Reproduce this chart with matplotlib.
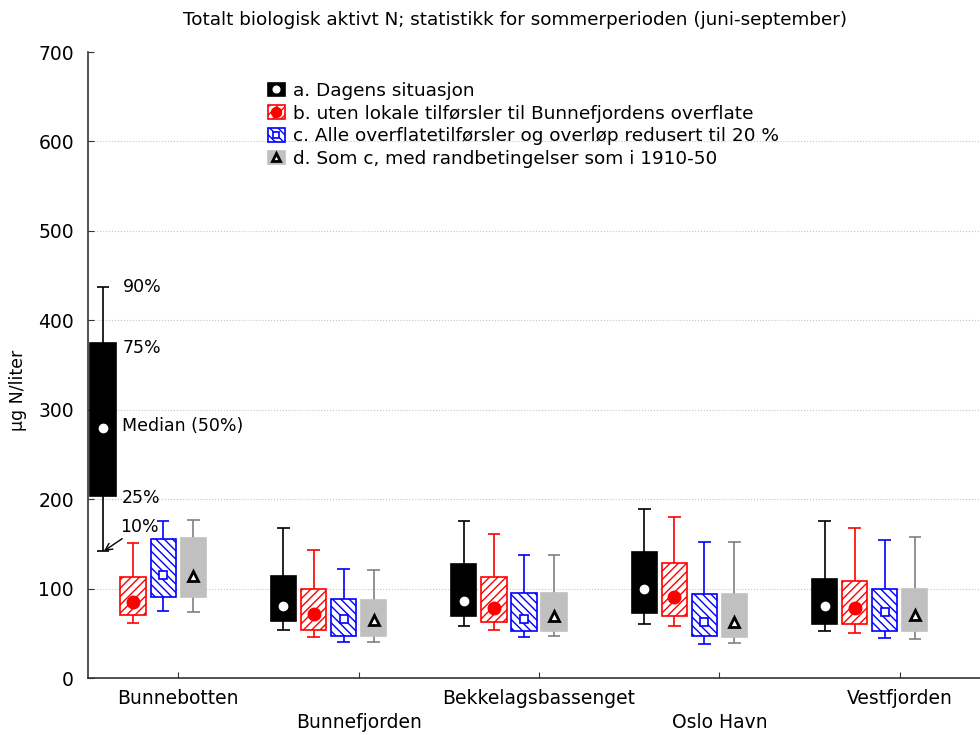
import numpy as np
import matplotlib
matplotlib.use("Agg")
import matplotlib.pyplot as plt
from matplotlib.patches import Patch
from matplotlib.lines import Line2D
from matplotlib.legend_handler import HandlerTuple

plt.rcParams['font.family'] = ['DejaVu Sans']
plt.rcParams['hatch.linewidth'] = 1.0

# stasjoner (x-aksen)
stasjoner = ["Bunnebotten", "Bunnefjorden", "Bekkelagsbassenget", "Oslo Havn", "Vestfjorden"]

# scenarier
scenarier = ["a. Dagens situasjon",
             "b. uten lokale tilførsler til Bunnefjordens overflate",
             "c. Alle overflatetilførsler og overløp redusert til 20 %",
             "d. Som c, med randbetingelser som i 1910-50"]

# percentiler lest av figuren: 10, 25, 50, 75, 90 (en verdi per stasjon)
a_p10 = [142, 54, 58, 60, 53]
a_p25 = [203, 64, 69, 73, 60]
a_p50 = [279, 81, 86, 99, 81]
a_p75 = [375, 114, 127, 141, 111]
a_p90 = [437, 168, 176, 189, 176]

b_p10 = [61, 46, 54, 58, 50]
b_p25 = [70, 54, 63, 69, 60]
b_p50 = [85, 72, 78, 91, 78]
b_p75 = [113, 100, 113, 129, 109]
b_p90 = [151, 143, 161, 180, 168]

c_p10 = [75, 40, 46, 38, 45]
c_p25 = [91, 47, 53, 47, 53]
c_p50 = [115, 66, 66, 63, 74]
c_p75 = [155, 88, 95, 94, 100]
c_p90 = [176, 122, 138, 152, 154]

d_p10 = [74, 40, 47, 39, 44]
d_p25 = [91, 47, 53, 46, 52]
d_p50 = [114, 65, 69, 63, 70]
d_p75 = [156, 87, 95, 94, 100]
d_p90 = [177, 121, 137, 152, 158]

data = [(a_p10, a_p25, a_p50, a_p75, a_p90),
        (b_p10, b_p25, b_p50, b_p75, b_p90),
        (c_p10, c_p25, c_p50, c_p75, c_p90),
        (d_p10, d_p25, d_p50, d_p75, d_p90)]

# stil for hver serie
kant = ["black", "red", "blue", "#c0c0c0"]
fyll = ["black", "white", "white", "#c0c0c0"]
skravur = [None, "////", "\\\\\\\\", None]
whiskfarge = ["black", "red", "blue", "#808080"]
mark = ["o", "o", "s", "^"]
markfyll = ["white", "red", "white", "white"]
markkant = ["white", "red", "blue", "black"]
markstr = [6, 9, 6, 6.5]
markew = [1, 1, 1.2, 2]

offset = np.array([-5, -3, -1, 1]) / 12.0
bredde = 0.14
cap = 0.07

fig = plt.figure(figsize=(9.8, 7.35), dpi=100)
ax = fig.add_axes([88/980, 57/735, 902/980, 626/735])

x = np.arange(1, len(stasjoner) + 1)
for i, (p10, p25, p50, p75, p90) in enumerate(data):
    xs = x + offset[i]
    p10, p25, p50, p75, p90 = map(np.array, (p10, p25, p50, p75, p90))
    ax.vlines(xs, p75, p90, color=whiskfarge[i], lw=1.2, zorder=2)
    ax.vlines(xs, p10, p25, color=whiskfarge[i], lw=1.2, zorder=2)
    ax.hlines(p90, xs - cap/2, xs + cap/2, color=whiskfarge[i], lw=1.2, zorder=2)
    ax.hlines(p10, xs - cap/2, xs + cap/2, color=whiskfarge[i], lw=1.2, zorder=2)
    ax.bar(xs, p75 - p25, bottom=p25, width=bredde, color=fyll[i],
           edgecolor=kant[i], hatch=skravur[i], lw=1.2, zorder=3)
    ax.plot(xs, p50, ls="none", marker=mark[i], ms=markstr[i], mfc=markfyll[i],
            mec=markkant[i], mew=markew[i], zorder=4)

# forklaring paa den foerste boksen
x0 = x[0] + offset[0]
ax.text(x0 + 0.11, a_p90[0], "90%", va="center", fontsize=12.5)
ax.text(x0 + 0.11, a_p75[0] - 6, "75%", va="center", fontsize=12.5)
ax.text(x0 + 0.105, a_p50[0] + 3, "Median (50%)", va="center", fontsize=12.5)
ax.text(x0 + 0.105, a_p25[0] - 2, "25%", va="center", fontsize=12.5)
ax.annotate("10%", xy=(x0 + 0.005, a_p10[0]), xytext=(x0 + 0.095, a_p10[0] + 27),
            va="center", fontsize=12.5,
            arrowprops=dict(arrowstyle="->", color="black", lw=1, shrinkA=0, shrinkB=0))

ax.set_xlim(0.5, 5.5)
ax.set_ylim(0, 700)
ax.set_yticks(np.arange(0, 701, 100))
ax.set_xticks(x)
ax.set_xticklabels([s if k % 2 == 0 else "\n" + s for k, s in enumerate(stasjoner)],
                   linespacing=1.3)
ax.tick_params(direction="in", length=4, labelsize=13.5, colors="#333333", labelcolor="black")
ax.tick_params(axis="y", pad=10)
ax.tick_params(axis="x", pad=8)
ax.grid(axis="y", ls=":", color="#c4c4c4", lw=0.8)
ax.yaxis.get_gridlines()[-1].set_visible(False)
ax.set_axisbelow(True)
for s in ["top", "right"]:
    ax.spines[s].set_visible(False)
for s in ["left", "bottom"]:
    ax.spines[s].set_color("#333333")
    ax.spines[s].set_linewidth(1.2)

fig.text(515/980, 1 - 20/735, "Totalt biologisk aktivt N; statistikk for sommerperioden (juni-september)",
         ha="center", va="center", fontsize=13.2)
fig.text(18/980, 1 - 390/735, "µg N/liter", rotation=90, ha="center", va="center", fontsize=12.5)

handles = []
for i in range(4):
    p = Patch(facecolor=fyll[i], edgecolor=kant[i], hatch=skravur[i], lw=1.2)
    m = Line2D([], [], ls="none", marker=mark[i], ms=markstr[i] * 0.8, mfc=markfyll[i],
               mec=markkant[i], mew=markew[i])
    handles.append((p, m))
ax.legend(handles, scenarier, handler_map={tuple: HandlerTuple(ndivide=1)},
          loc="upper left", bbox_to_anchor=(268/980, 1 - 82/735), bbox_transform=fig.transFigure,
          frameon=False, fontsize=13.3, handlelength=0.9, handleheight=0.75,
          handletextpad=0.45, labelspacing=0.25, borderpad=0, borderaxespad=0)

fig.savefig("out.png", dpi=100)
